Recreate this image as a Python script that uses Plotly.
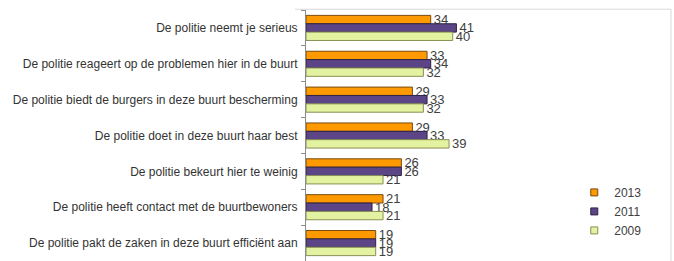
import plotly.graph_objects as go

categories = [
    "De politie neemt je serieus",
    "De politie reageert op de problemen hier in de buurt",
    "De politie biedt de burgers in deze buurt bescherming",
    "De politie doet in deze buurt haar best",
    "De politie bekeurt hier te weinig",
    "De politie heeft contact met de buurtbewoners",
    "De politie pakt de zaken in deze buurt efficiënt aan",
]
series_names = ["2013", "2011", "2009"]
values_2013 = [34, 33, 29, 29, 26, 21, 19]
values_2011 = [41, 34, 33, 33, 26, 18, 19]
values_2009 = [40, 32, 32, 39, 21, 21, 19]

fills = ["#FF9900", "#5C4587", "#E3F2A0"]
outlines = ["#7A4A10", "#2E2346", "#8A8F55"]

fig = go.Figure()
for name, vals, fc, lc in zip(series_names, [values_2013, values_2011, values_2009], fills, outlines):
    fig.add_trace(go.Bar(
        y=categories, x=vals, orientation="h", name=name,
        marker=dict(color=fc, line=dict(color=lc, width=1)),
        text=[str(v) for v in vals], textposition="outside",
        textfont=dict(family="Liberation Sans, Arial", size=13, color="#404040"),
        constraintext="none", cliponaxis=False, showlegend=False,
    ))
    fig.add_trace(go.Scatter(
        x=[None], y=[None], mode="markers", name=name,
        marker=dict(symbol="square", size=7, color=fc, line=dict(color=lc, width=1)),
        showlegend=True,
    ))

fig.update_layout(
    width=674, height=261,
    margin=dict(l=306, r=3, t=10, b=0, autoexpand=False),
    paper_bgcolor="white", plot_bgcolor="white",
    barmode="group", bargap=0.3, bargroupgap=0,
    font=dict(family="Liberation Sans, Arial", size=12, color="#333333"),
    xaxis=dict(range=[0, 99.5], visible=False, fixedrange=True),
    yaxis=dict(
        type="category", autorange="reversed", categoryorder="array", categoryarray=categories,
        showline=True, linecolor="#8c8c8c", linewidth=1,
        ticks="outside", ticklen=4, tickcolor="#8c8c8c", tickson="boundaries",
        ticklabelstandoff=5, showgrid=False, automargin=False, fixedrange=True,
        tickfont=dict(family="Liberation Sans, Arial", size=12, color="#333333"),
    ),
    legend=dict(
        x=0.735, y=0.331, xanchor="left", yanchor="top",
        font=dict(family="Liberation Sans, Arial", size=12, color="#404040"),
        bgcolor="rgba(0,0,0,0)", itemwidth=30, tracegroupgap=0,
    ),
    showlegend=True,
)

# light frame (top and right edges) around the chart area
fig.add_shape(type="line", xref="paper", yref="paper", x0=-0.03, x1=1, y0=1.003, y1=1.003,
              line=dict(color="#d9d9d9", width=1))
fig.add_shape(type="line", xref="paper", yref="paper", x0=1, x1=1, y0=-0.05, y1=1.003,
              line=dict(color="#d9d9d9", width=1))

fig.write_html(
    "out.html",
    config={"displayModeBar": False},
    post_script="document.body.style.margin='0';document.body.style.padding='0';document.body.style.overflow='hidden';",
)
